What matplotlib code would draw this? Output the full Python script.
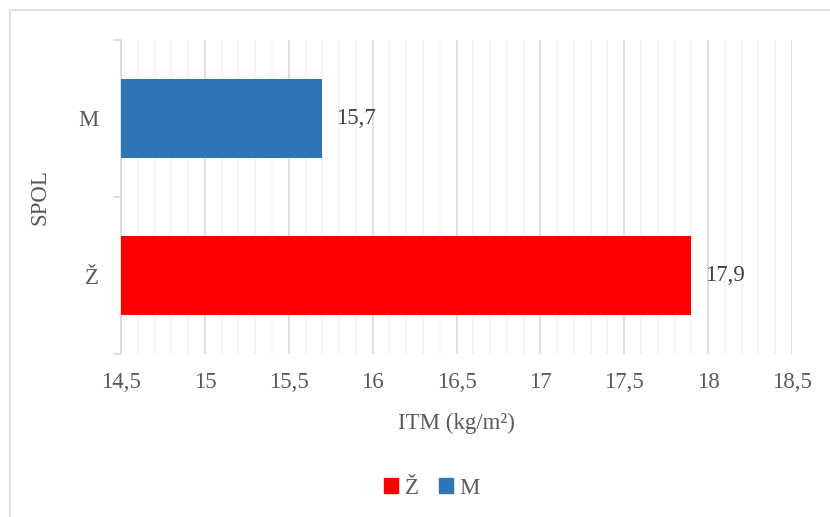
import matplotlib.pyplot as plt
from matplotlib.patches import Rectangle
from matplotlib.ticker import MultipleLocator, FixedLocator, NullFormatter

categories = ['Ž', 'M']
values = [17.9, 15.7]
colors = ['#FF0000', '#2E75B6']
xticks = [14.5, 15, 15.5, 16, 16.5, 17, 17.5, 18, 18.5]
xlabel = 'ITM (kg/m²)'
ylabel = 'SPOL'

plt.rcParams['font.family'] = ['Liberation Serif', 'DejaVu Serif']
txt = '#595959'
fs = 16.5

fig = plt.figure(figsize=(8.3, 5.17), dpi=100)
# chart border (only left/top visible in the crop)
fig.patches.append(Rectangle((10 / 830, -0.1), 1.2, 1 - 10 / 517 + 0.1,
                             transform=fig.transFigure, fill=False,
                             edgecolor='#D9D9D9', linewidth=1.2))

ax = fig.add_axes([121 / 830, 1 - 354 / 517, (792 - 121) / 830, (354 - 40) / 517])
ypos = list(range(len(categories)))
ax.barh(ypos, [v - 14.5 for v in values], left=14.5, height=0.5,
        color=colors, zorder=3)
for y, v in zip(ypos, values):
    ax.text(v + 0.08, y, ('%.1f' % v).replace('.', ','), va='center', ha='left',
            fontsize=fs, color='#404040')

ax.set_xlim(14.5, 18.5)
ax.set_ylim(-0.5, 1.5)
ax.set_xticks(xticks)
ax.set_xticklabels([('%g' % t).replace('.', ',') for t in xticks], fontsize=fs, color=txt)
ax.xaxis.set_minor_locator(MultipleLocator(0.1))
ax.grid(axis='x', which='major', color='#D9D9D9', linewidth=1.2, zorder=0)
ax.grid(axis='x', which='minor', color='#F2F2F2', linewidth=1.2, zorder=0)
ax.tick_params(axis='x', which='both', length=0, pad=13)

ax.set_yticks(ypos)
ax.set_yticklabels(categories, fontsize=fs, color=txt)
ax.yaxis.set_minor_locator(FixedLocator([-0.5, 0.5, 1.5]))
ax.yaxis.set_minor_formatter(NullFormatter())
ax.tick_params(axis='y', which='major', length=0, pad=16)
ax.tick_params(axis='y', which='minor', length=6, color='#D9D9D9', width=1.2)

for s in ['top', 'right', 'bottom']:
    ax.spines[s].set_visible(False)
ax.spines['left'].set_color('#D9D9D9')
ax.spines['left'].set_linewidth(1.2)

ax.set_xlabel(xlabel, fontsize=fs, color=txt, labelpad=14)
ax.set_ylabel(ylabel, fontsize=fs, color=txt, labelpad=20)

handles = [Rectangle((0, 0), 1, 1, color=c) for c in colors]
fig.legend(handles, categories, loc='center', bbox_to_anchor=(432 / 830, 1 - 488 / 517),
           ncol=2, frameon=False, fontsize=fs, handlelength=0.6, handleheight=0.6,
           handletextpad=0.3, columnspacing=0.9, labelcolor=txt)

fig.savefig('out.png', dpi=100, facecolor='white')
